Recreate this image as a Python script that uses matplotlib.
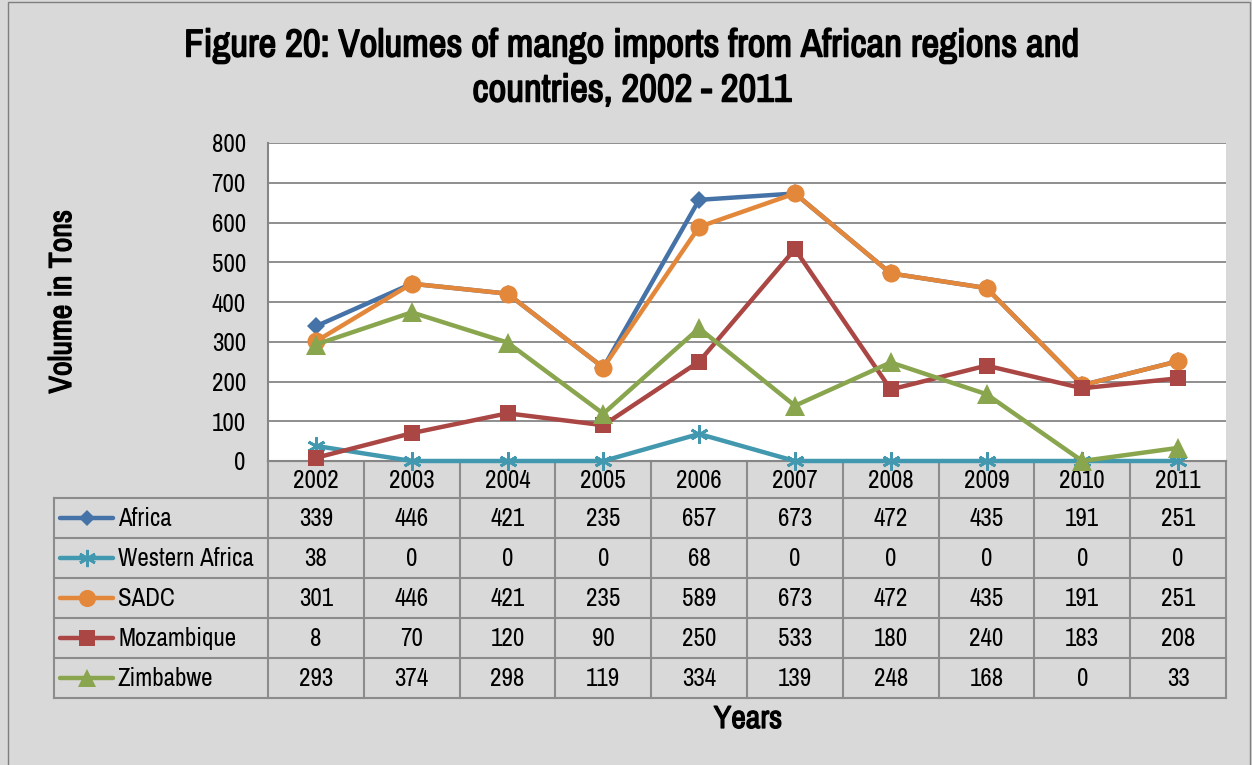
import matplotlib
matplotlib.use("Agg")
import matplotlib.pyplot as plt
import matplotlib.patheffects as pe
from matplotlib.patches import Rectangle

plt.rcParams['font.family'] = ['Archivo Narrow', 'Liberation Sans', 'DejaVu Sans']

years = ['2002', '2003', '2004', '2005', '2006', '2007', '2008', '2009', '2010', '2011']
series_names = ['Africa', 'Western Africa', 'SADC', 'Mozambique', 'Zimbabwe']
africa = [339, 446, 421, 235, 657, 673, 472, 435, 191, 251]
western_africa = [38, 0, 0, 0, 68, 0, 0, 0, 0, 0]
sadc = [301, 446, 421, 235, 589, 673, 472, 435, 191, 251]
mozambique = [8, 70, 120, 90, 250, 533, 180, 240, 183, 208]
zimbabwe = [293, 374, 298, 119, 334, 139, 248, 168, 0, 33]
series_values = [africa, western_africa, sadc, mozambique, zimbabwe]
title_lines = ['Figure 20: Volumes of mango imports from African regions and',
               'countries, 2002 - 2011']

colors = ['#4572A7', '#4198AF', '#E3873B', '#AA4643', '#89A54E']
markers = ['D', (6, 2, 0), 'o', 's', '^']
msizes = [9, 13, 13, 12, 14]

W, H = 1252, 765
bg = '#D9D9D9'
gridc = '#868686'
fs = 18

# the narrow font has no bold face: thicken it with a thin stroke
bold = [pe.withStroke(linewidth=0.9, foreground='black')]

fig = plt.figure(figsize=(W / 100, H / 100), dpi=100, facecolor=bg)

# chart area in pixel coords
left, right, top, bottom = 268, 1226, 143, 461
ax = fig.add_axes([left / W, 1 - bottom / H, (right - left) / W, (bottom - top) / H])
ax.set_zorder(2)
ax.set_facecolor('white')
x = list(range(len(years)))
for vals, c, m, ms in zip(series_values, colors, markers, msizes):
    mew = 2 if isinstance(m, tuple) else 0
    ax.plot(x, vals, color=c, lw=3.2, marker=m, markersize=ms,
            markeredgewidth=mew, markeredgecolor=c, clip_on=False, zorder=3)
ax.set_xlim(-0.5, len(years) - 0.5)
ax.set_ylim(0, 800)
ax.set_yticks(range(0, 801, 100))
ax.set_xticks([])
ax.grid(axis='y', color=gridc, lw=1.3)
ax.set_axisbelow(True)
ax.tick_params(axis='y', length=0, pad=16, labelsize=fs)
for s in ['top', 'right']:
    ax.spines[s].set_visible(False)
for s in ['left', 'bottom']:
    ax.spines[s].set_color(gridc)
    ax.spines[s].set_linewidth(1.5)

# overlay in pixel coordinates for data table
ov = fig.add_axes([0, 0, 1, 1])
ov.set_zorder(1)
ov.set_xlim(0, W)
ov.set_ylim(H, 0)
ov.axis('off')
ov.patch.set_visible(False)

ov.add_patch(Rectangle((8, 2), W - 10, H - 1, fill=False, ec='#7F7F7F', lw=1))

tl = 54
colw = (right - left) / len(years)
rows = [461, 498, 538, 578, 618, 658, 698]
lc = '#8C8C8C'
lw = 1.5
# horizontal lines
ov.plot([left, right], [rows[0], rows[0]], color=lc, lw=lw)
for r in rows[1:]:
    ov.plot([tl, right], [r, r], color=lc, lw=lw)
# vertical lines
ov.plot([tl, tl], [rows[1], rows[-1]], color=lc, lw=lw)
for i in range(len(years) + 1):
    xx = left + i * colw
    ov.plot([xx, xx], [rows[0], rows[-1]], color=lc, lw=lw)

for i, yr in enumerate(years):
    ov.text(left + (i + 0.5) * colw, (rows[0] + rows[1]) / 2 + 1, yr,
            ha='center', va='center', fontsize=fs)

for j, (name, vals) in enumerate(zip(series_names, series_values)):
    yc = (rows[j + 1] + rows[j + 2]) / 2
    c, m, ms = colors[j], markers[j], msizes[j]
    mew = 2 if isinstance(m, tuple) else 0
    ov.plot([60, 113], [yc, yc], color=c, lw=3.2, solid_capstyle='round')
    ov.plot([87], [yc], color=c, marker=m, markersize=ms * 0.95,
            markeredgewidth=mew, markeredgecolor=c)
    ov.text(118, yc + 1, name, ha='left', va='center', fontsize=fs)
    for i, v in enumerate(vals):
        ov.text(left + (i + 0.5) * colw, yc + 1, str(v),
                ha='center', va='center', fontsize=fs)

ov.text(62, 302, 'Volume in Tons', ha='center', va='center', rotation=90,
        fontsize=23, path_effects=bold)
ov.text(748, 719, 'Years', ha='center', va='center', fontsize=23, path_effects=bold)
ov.text(632, 46, title_lines[0], ha='center', va='center', fontsize=28,
        path_effects=[pe.withStroke(linewidth=1.1, foreground='black')])
ov.text(632, 91, title_lines[1], ha='center', va='center', fontsize=28,
        path_effects=[pe.withStroke(linewidth=1.1, foreground='black')])

plt.savefig('out.png', dpi=100, facecolor=bg)
